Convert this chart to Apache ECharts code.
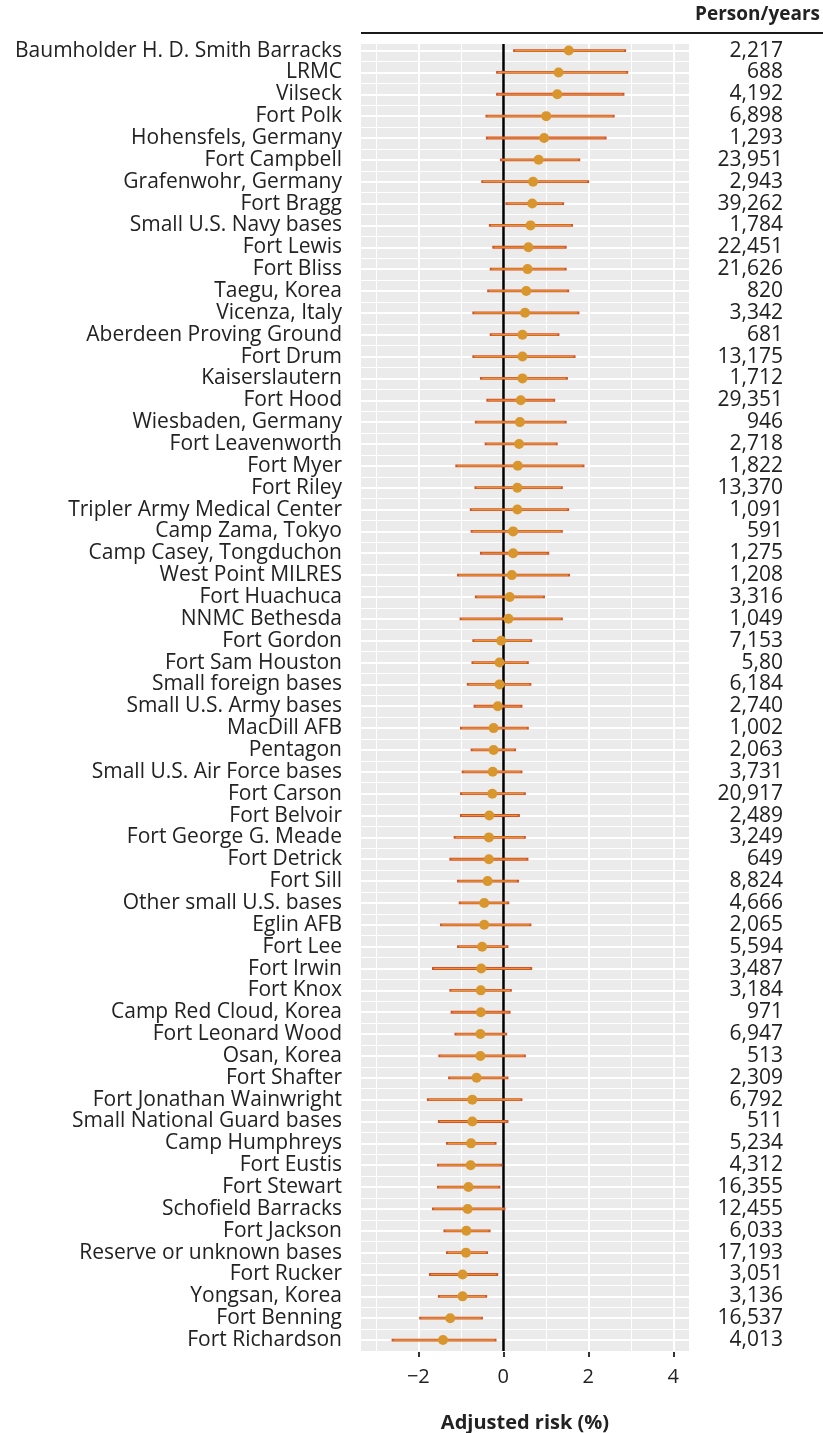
<!DOCTYPE html>
<html>
<head>
<meta charset="utf-8">
<script src="https://cdn.jsdelivr.net/npm/echarts@6/dist/echarts.min.js"></script>
<style>
  html, body { margin: 0; padding: 0; background: #fff; }
  #chart { width: 823px; height: 1433px; }
</style>
</head>
<body>
<div id="chart"></div>
<script>
const sites = [
  'Baumholder H. D. Smith Barracks', 'LRMC', 'Vilseck', 'Fort Polk', 'Hohensfels, Germany',
  'Fort Campbell', 'Grafenwohr, Germany', 'Fort Bragg', 'Small U.S. Navy bases', 'Fort Lewis',
  'Fort Bliss', 'Taegu, Korea', 'Vicenza, Italy', 'Aberdeen Proving Ground', 'Fort Drum',
  'Kaiserslautern', 'Fort Hood', 'Wiesbaden, Germany', 'Fort Leavenworth', 'Fort Myer',
  'Fort Riley', 'Tripler Army Medical Center', 'Camp Zama, Tokyo', 'Camp Casey, Tongduchon', 'West Point MILRES',
  'Fort Huachuca', 'NNMC Bethesda', 'Fort Gordon', 'Fort Sam Houston', 'Small foreign bases',
  'Small U.S. Army bases', 'MacDill AFB', 'Pentagon', 'Small U.S. Air Force bases', 'Fort Carson',
  'Fort Belvoir', 'Fort George G. Meade', 'Fort Detrick', 'Fort Sill', 'Other small U.S. bases',
  'Eglin AFB', 'Fort Lee', 'Fort Irwin', 'Fort Knox', 'Camp Red Cloud, Korea',
  'Fort Leonard Wood', 'Osan, Korea', 'Fort Shafter', 'Fort Jonathan Wainwright', 'Small National Guard bases',
  'Camp Humphreys', 'Fort Eustis', 'Fort Stewart', 'Schofield Barracks', 'Fort Jackson',
  'Reserve or unknown bases', 'Fort Rucker', 'Yongsan, Korea', 'Fort Benning', 'Fort Richardson'
];

const estimate = [
  1.54, 1.30, 1.27, 1.01, 0.96, 0.83, 0.70, 0.68, 0.64, 0.59,
  0.57, 0.54, 0.51, 0.45, 0.45, 0.45, 0.41, 0.39, 0.37, 0.34,
  0.33, 0.33, 0.23, 0.23, 0.20, 0.15, 0.12, -0.05, -0.09, -0.09,
  -0.13, -0.23, -0.23, -0.25, -0.26, -0.33, -0.34, -0.34, -0.37, -0.45,
  -0.45, -0.50, -0.52, -0.53, -0.53, -0.54, -0.54, -0.63, -0.73, -0.73,
  -0.76, -0.77, -0.82, -0.84, -0.87, -0.88, -0.96, -0.96, -1.25, -1.42
];

const lower = [
  0.23, -0.17, -0.17, -0.42, -0.41, -0.08, -0.52, 0.05, -0.34, -0.26,
  -0.32, -0.38, -0.73, -0.32, -0.73, -0.55, -0.40, -0.67, -0.44, -1.13,
  -0.68, -0.79, -0.77, -0.55, -1.09, -0.67, -1.03, -0.73, -0.75, -0.86,
  -0.70, -1.02, -0.77, -0.98, -1.02, -1.02, -1.17, -1.27, -1.09, -1.05,
  -1.49, -1.09, -1.68, -1.27, -1.24, -1.15, -1.53, -1.30, -1.80, -1.54,
  -1.35, -1.56, -1.56, -1.68, -1.41, -1.35, -1.75, -1.54, -1.98, -2.63
];

const upper = [
  2.89, 2.94, 2.85, 2.62, 2.43, 1.81, 2.02, 1.43, 1.64, 1.49,
  1.49, 1.55, 1.79, 1.32, 1.70, 1.52, 1.22, 1.49, 1.28, 1.91,
  1.40, 1.55, 1.40, 1.08, 1.57, 0.98, 1.40, 0.68, 0.60, 0.66,
  0.45, 0.60, 0.30, 0.45, 0.53, 0.39, 0.53, 0.59, 0.37, 0.14,
  0.66, 0.12, 0.68, 0.20, 0.17, 0.09, 0.53, 0.12, 0.45, 0.12,
  -0.16, -0.02, -0.07, 0.05, -0.30, -0.36, -0.12, -0.38, -0.48, -0.16
];

const personYears = [
  '2,217', '688', '4,192', '6,898', '1,293', '23,951', '2,943', '39,262', '1,784', '22,451',
  '21,626', '820', '3,342', '681', '13,175', '1,712', '29,351', '946', '2,718', '1,822',
  '13,370', '1,091', '591', '1,275', '1,208', '3,316', '1,049', '7,153', '5,80', '6,184',
  '2,740', '1,002', '2,063', '3,731', '20,917', '2,489', '3,249', '649', '8,824', '4,666',
  '2,065', '5,594', '3,487', '3,184', '971', '6,947', '513', '2,309', '6,792', '511',
  '5,234', '4,312', '16,355', '12,455', '6,033', '17,193', '3,051', '3,136', '16,537', '4,013'
];

const xTicks = [-2, 0, 2, 4];
const xMinor = [-3, -1, 1, 3];

const FONT = 'Open Sans';
const rows = sites.map((_, i) => i + 1);
const betweenRows = [0.5].concat(rows.map(r => r + 0.5));

const chart = echarts.init(document.getElementById('chart'));

// ggplot-like white grid over grey panel
const gridLines = []
  .concat(xMinor.map(v => ({ xAxis: v, lineStyle: { color: '#fff', width: 1, type: 'solid' } })))
  .concat(xTicks.map(v => ({ xAxis: v, lineStyle: { color: '#fff', width: 2, type: 'solid' } })))
  .concat(betweenRows.map(v => ({ yAxis: v, lineStyle: { color: '#fff', width: 1, type: 'solid' } })))
  .concat(rows.map(v => ({ yAxis: v, lineStyle: { color: '#fff', width: 2, type: 'solid' } })));

const option = {
  animation: false,
  textStyle: { fontFamily: FONT },
  grid: {
    left: 361, right: 134, top: 44, bottom: 82,
    containLabel: false,
    outerBoundsMode: 'none',
    show: true, backgroundColor: '#ebebeb', borderWidth: 0
  },
  xAxis: {
    type: 'value',
    min: -3.35,
    max: 4.37,
    axisLine: { show: false },
    splitLine: { show: false },
    axisTick: {
      customValues: xTicks, length: 6,
      lineStyle: { color: '#333', width: 2 }
    },
    axisLabel: {
      customValues: xTicks,
      formatter: v => (v < 0 ? '\u2212' + Math.abs(v) : String(v)),
      fontSize: 20, color: '#222', margin: 16, fontFamily: FONT
    },
    name: 'Adjusted risk (%)',
    nameLocation: 'middle',
    nameGap: 62,
    nameTextStyle: { fontSize: 20, fontWeight: 'bold', color: '#222', fontFamily: FONT }
  },
  yAxis: [
    {
      type: 'value',
      inverse: true,
      min: 0.7,
      max: 60.5,
      axisLine: { show: false },
      splitLine: { show: false },
      axisTick: {
        customValues: rows, length: 5,
        lineStyle: { color: '#333', width: 2 }
      },
      axisLabel: {
        customValues: rows,
        formatter: v => sites[Math.round(v) - 1] || '',
        fontSize: 21, color: '#222', margin: 19, fontFamily: FONT
      }
    },
    {
      type: 'value',
      inverse: true,
      position: 'right',
      min: 0.7,
      max: 60.5,
      axisLine: { show: false },
      splitLine: { show: false },
      axisTick: { show: false },
      axisLabel: {
        customValues: rows,
        formatter: v => personYears[Math.round(v) - 1] || '',
        align: 'right',
        fontSize: 21, color: '#222', margin: 94, fontFamily: FONT
      }
    }
  ],
  graphic: [
    {
      type: 'line',
      shape: { x1: 361, y1: 33, x2: 823, y2: 33 },
      style: { stroke: '#1a1a1a', lineWidth: 2 }
    },
    {
      type: 'text',
      right: 3, top: 5,
      style: {
        text: 'Person/years', fontSize: 19, fontWeight: 'bold',
        fill: '#222', fontFamily: FONT
      }
    }
  ],
  series: [
    {
      type: 'line',
      data: [],
      silent: true,
      z: 1,
      markLine: {
        silent: true,
        z: 1,
        symbol: 'none',
        label: { show: false },
        animation: false,
        data: gridLines
      }
    },
    {
      type: 'line',
      data: [],
      silent: true,
      z: 2,
      markLine: {
        silent: true,
        z: 2,
        symbol: 'none',
        label: { show: false },
        animation: false,
        data: [{ xAxis: 0, lineStyle: { color: '#000', width: 2.5, type: 'solid' } }]
      }
    },
    {
      type: 'custom',
      z: 10,
      clip: false,
      data: sites.map((s, i) => [rows[i], estimate[i], lower[i], upper[i]]),
      encode: { y: 0, x: [1, 2, 3] },
      renderItem: (params, api) => {
        const y = api.value(0);
        const pt = api.coord([api.value(1), y]);
        const lo = api.coord([api.value(2), y]);
        const hi = api.coord([api.value(3), y]);
        return {
          type: 'group',
          children: [
            {
              type: 'line',
              shape: { x1: lo[0], y1: lo[1], x2: hi[0], y2: hi[1] },
              style: { stroke: '#d4542a', lineWidth: 2.8 }
            },
            {
              type: 'line',
              shape: { x1: lo[0] + 2, y1: lo[1], x2: hi[0] - 2, y2: hi[1] },
              style: { stroke: '#e8962f', lineWidth: 1.2 }
            },
            {
              type: 'circle',
              shape: { cx: pt[0], cy: pt[1], r: 5 },
              style: { fill: '#d9962d' }
            }
          ]
        };
      }
    }
  ]
};

chart.setOption(option);
</script>
</body>
</html>
